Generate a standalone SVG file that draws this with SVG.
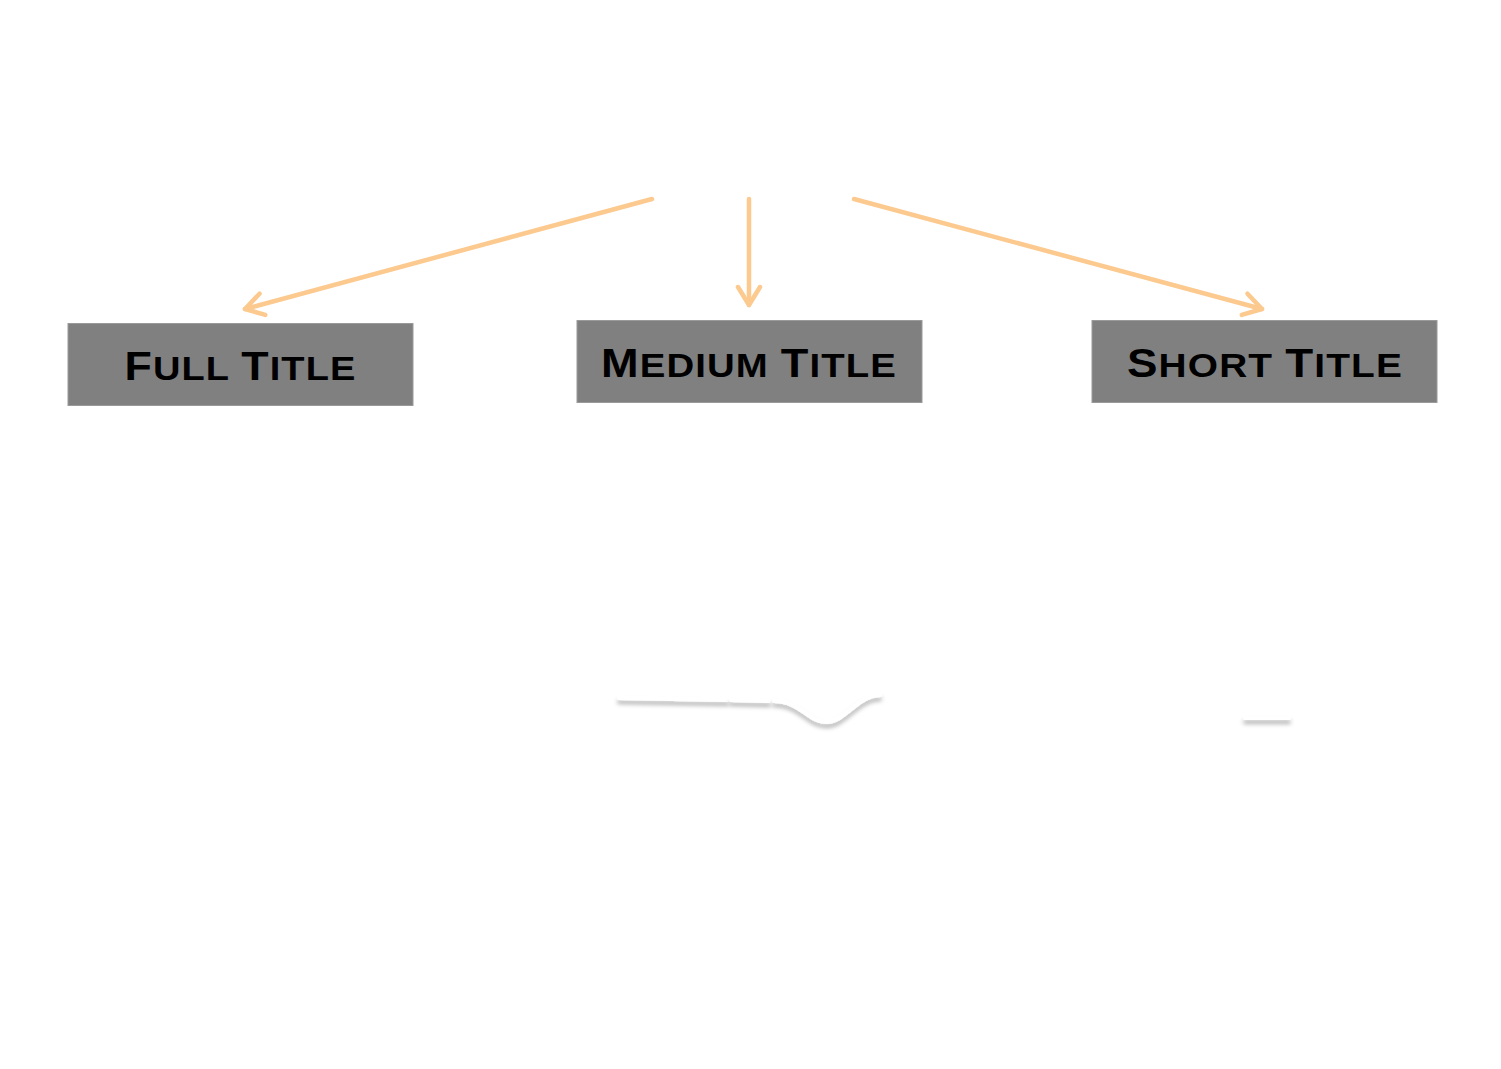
<svg xmlns="http://www.w3.org/2000/svg" width="1501" height="1069" viewBox="0 0 1501 1069">
  <style>
    .box { fill: #808080; stroke: #9a9a9a; stroke-width: 1; }
    .label { font-family: "Liberation Sans", "DejaVu Sans", sans-serif; font-weight: bold; fill: #000; text-anchor: middle; letter-spacing: 1px; }
    .cap { font-size: 40px; }
    .arrow { fill: none; stroke: #fcc98f; stroke-width: 4.5; stroke-linecap: round; marker-end: url(#chevron); }
    .stroke { fill: none; stroke: #ffffff; stroke-width: 4; stroke-linecap: round; filter: url(#shade); }
  </style>
  <defs>
    <marker id="chevron" markerUnits="userSpaceOnUse" viewBox="-22 -14 26 28" markerWidth="26" markerHeight="28" refX="0" refY="0" orient="auto">
      <path d="M -18 -11 L 0 0 L -18 11" fill="none" stroke="#fcc98f" stroke-width="4.5" stroke-linecap="round" stroke-linejoin="round"/>
    </marker>
    <filter id="shade" filterUnits="userSpaceOnUse" x="0" y="600" width="1501" height="200">
      <feDropShadow dx="0" dy="4" stdDeviation="2" flood-color="#000" flood-opacity="0.3"/>
    </filter>
  </defs>

  <rect width="1501" height="1069" fill="#ffffff"/>

  <!-- connectors -->
  <g id="connectors">
    <line class="arrow" x1="652" y1="199" x2="245" y2="309"/>
    <line class="arrow" x1="749" y1="199" x2="749" y2="305"/>
    <line class="arrow" x1="854" y1="199" x2="1262" y2="309"/>
  </g>

  <!-- title boxes -->
  <g id="full-title">
    <rect class="box" x="68" y="323.5" width="345" height="82"/>
    <text class="label" x="240.5" y="380" font-size="34" textLength="232" lengthAdjust="spacingAndGlyphs"><tspan class="cap">F</tspan>ULL <tspan class="cap">T</tspan>ITLE</text>
  </g>
  <g id="medium-title">
    <rect class="box" x="577" y="320.5" width="345" height="82"/>
    <text class="label" x="749" y="377" font-size="34" textLength="296" lengthAdjust="spacingAndGlyphs"><tspan class="cap">M</tspan>EDIUM <tspan class="cap">T</tspan>ITLE</text>
  </g>
  <g id="short-title">
    <rect class="box" x="1092" y="320.5" width="345" height="82"/>
    <text class="label" x="1265" y="377" font-size="34" textLength="276" lengthAdjust="spacingAndGlyphs"><tspan class="cap">S</tspan>HORT <tspan class="cap">T</tspan>ITLE</text>
  </g>

  <!-- faint white strokes with soft shadow -->
  <g id="white-strokes">
    <path class="stroke" d="M 619 698 L 727 700"/>
    <path class="stroke" d="M 731 700 L 769 701"/>
    <path class="stroke" d="M 774 701 C 800 701 808 722 826 722 C 846 722 856 696 880 695"/>
    <path class="stroke" d="M 1245 718 L 1289 718"/>
  </g>
</svg>
